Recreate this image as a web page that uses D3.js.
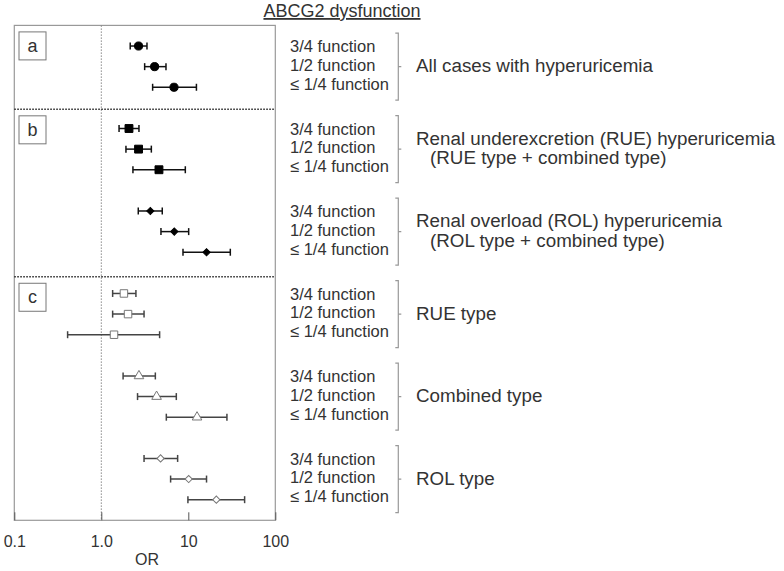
<!DOCTYPE html>
<html>
<head>
<meta charset="utf-8">
<script src="https://cdn.jsdelivr.net/npm/d3@7"></script>
<style>
  body { margin: 0; background: #fff; }
  text { font-family: "Liberation Sans", Arial, sans-serif; fill: #333; }
</style>
</head>
<body>
<div id="body"></div>
<script>
// row labels (repeated in every group)
let functionLabels = ["3/4 function", "1/2 function", "\u2264 1/4 function"]

// group labels, one or two lines each
let groupLabels = [
  ["All cases with hyperuricemia"],
  ["Renal underexcretion (RUE) hyperuricemia", "(RUE type + combined type)"],
  ["Renal overload (ROL) hyperuricemia", "(ROL type + combined type)"],
  ["RUE type"],
  ["Combined type"],
  ["ROL type"]
]
let panelLabels = ["a", "b", "c"]

// odds ratios and 95% CI
let orAll = [2.68, 4.1, 6.85]
let loAll = [2.15, 3.15, 3.89]
let hiAll = [3.35, 5.54, 12.4]

let orRUEall = [2.08, 2.68, 4.6]
let loRUEall = [1.6, 1.92, 2.31]
let hiRUEall = [2.71, 3.76, 9.24]

let orROLall = [3.66, 6.9, 16.2]
let loROLall = [2.66, 4.85, 8.69]
let hiROLall = [5.02, 10.1, 30.4]

let orRUE = [1.82, 2.03, 1.4]
let loRUE = [1.35, 1.35, 0.41]
let hiRUE = [2.5, 3.1, 4.68]

let orComb = [2.71, 4.32, 12.6]
let loComb = [1.78, 2.61, 5.59]
let hiComb = [4.18, 7.28, 27.8]

let orROL = [4.8, 10.1, 21]
let loROL = [3.1, 6.26, 9.9]
let hiROL = [7.54, 16.2, 44.4]

let tickValues = [0.1, 1, 10, 100]
let tickLabels = ["0.1", "1.0", "10", "100"]

let seriesOR = [orAll, orRUEall, orROLall, orRUE, orComb, orROL]
let seriesLo = [loAll, loRUEall, loROLall, loRUE, loComb, loROL]
let seriesHi = [hiAll, hiRUEall, hiROLall, hiRUE, hiComb, hiROL]

// marker style per group
let markers = [
  { shape: d3.symbolCircle, size: 52, fill: "#000", stroke: "#000", rot: 0 },
  { shape: d3.symbolSquare, size: 62, fill: "#000", stroke: "#000", rot: 0 },
  { shape: d3.symbolSquare, size: 26, fill: "#000", stroke: "#000", rot: 45 },
  { shape: d3.symbolSquare, size: 56, fill: "#fff", stroke: "#777", rot: 0 },
  { shape: d3.symbolTriangle, size: 40, fill: "#fff", stroke: "#777", rot: 0 },
  { shape: d3.symbolSquare, size: 26, fill: "#fff", stroke: "#777", rot: 45 }
]

let width = 784, height = 571

let svg = d3.select("#body")
  .append("svg")
  .attr("width", width)
  .attr("height", height)

// scales
let x = d3.scaleLog()
  .domain([0.1, 100])
  .range([14.3, 275.3])

// rows are slots: 4 slots per group (3 rows + gap)
let y = d3.scaleLinear()
  .domain([-1, 23])
  .range([25.4, 520.3])

// build the flat row table
let rows = []
seriesOR.forEach(function (s, g) {
  s.forEach(function (v, i) {
    rows.push({ group: g, i: i, or: v, lo: seriesLo[g][i], hi: seriesHi[g][i], slot: g * 4 + i })
  })
})

// title
svg.append("text")
  .attr("x", 342)
  .attr("y", 17)
  .attr("text-anchor", "middle")
  .style("font-size", "18px")
  .style("text-decoration", "underline")
  .text("ABCG2 dysfunction")

// plot frame
svg.append("rect")
  .attr("x", x(0.1))
  .attr("y", y(-1))
  .attr("width", x(100) - x(0.1))
  .attr("height", y(23) - y(-1))
  .attr("fill", "none")
  .attr("stroke", "#999")
  .attr("stroke-width", 1.2)

// reference line at OR = 1
svg.append("line")
  .attr("x1", x(1)).attr("x2", x(1))
  .attr("y1", y(-1)).attr("y2", y(23))
  .attr("stroke", "#888")
  .attr("stroke-width", 1)
  .attr("stroke-dasharray", "1.5,1.5")

// section separators
let separatorSlots = [3.07, 11.19]
svg.selectAll(".sep")
  .data(separatorSlots)
  .enter()
  .append("line")
  .attr("class", "sep")
  .attr("x1", x(0.1)).attr("x2", x(100))
  .attr("y1", function (d) { return y(d) })
  .attr("y2", function (d) { return y(d) })
  .attr("stroke", "#222")
  .attr("stroke-width", 1.5)
  .attr("stroke-dasharray", "1.5,1.5")

// panel letter boxes
let panelTop = [y(-1), y(3.07), y(11.19)]
let panel = svg.selectAll(".panel")
  .data(panelLabels)
  .enter()
  .append("g")
  .attr("class", "panel")
  .attr("transform", function (d, i) { return "translate(19," + (panelTop[i] + 6.5) + ")" })
panel.append("rect")
  .attr("width", 27)
  .attr("height", 28)
  .attr("fill", "#fff")
  .attr("stroke", "#777")
panel.append("text")
  .attr("x", 13.5)
  .attr("y", 20)
  .attr("text-anchor", "middle")
  .style("font-size", "18px")
  .text(function (d) { return d })

// x axis
let axis = svg.append("g")
  .attr("transform", "translate(0," + y(23) + ")")
  .call(d3.axisBottom(x)
    .tickValues(tickValues)
    .tickSize(-8)
    .tickPadding(15)
    .tickFormat(function (d, i) { return tickLabels[i] }))
axis.select(".domain").remove()
axis.selectAll(".tick line").attr("stroke", "#555")
axis.selectAll(".tick text")
  .style("font-size", "16px")
  .style("font-family", "'Liberation Sans', Arial, sans-serif")
  .attr("fill", "#333")

svg.append("text")
  .attr("x", 147)
  .attr("y", 565)
  .attr("text-anchor", "middle")
  .style("font-size", "16px")
  .text("OR")

// error bars
let bars = svg.selectAll(".bar")
  .data(rows)
  .enter()
  .append("g")
  .attr("class", "bar")
  .attr("stroke", function (d) { return d.group < 3 ? "#111" : "#444" })
  .attr("stroke-width", 1.5)
bars.append("line")
  .attr("x1", function (d) { return x(d.lo) })
  .attr("x2", function (d) { return x(d.hi) })
  .attr("y1", function (d) { return y(d.slot) })
  .attr("y2", function (d) { return y(d.slot) })
bars.append("line")
  .attr("x1", function (d) { return x(d.lo) })
  .attr("x2", function (d) { return x(d.lo) })
  .attr("y1", function (d) { return y(d.slot) - 3.5 })
  .attr("y2", function (d) { return y(d.slot) + 3.5 })
bars.append("line")
  .attr("x1", function (d) { return x(d.hi) })
  .attr("x2", function (d) { return x(d.hi) })
  .attr("y1", function (d) { return y(d.slot) - 3.5 })
  .attr("y2", function (d) { return y(d.slot) + 3.5 })

// point estimates
svg.selectAll(".pt")
  .data(rows)
  .enter()
  .append("path")
  .attr("class", "pt")
  .attr("d", function (d) { return d3.symbol().type(markers[d.group].shape).size(markers[d.group].size)() })
  .attr("transform", function (d) {
    return "translate(" + x(d.or) + "," + y(d.slot) + ") rotate(" + markers[d.group].rot + ")"
  })
  .attr("fill", function (d) { return markers[d.group].fill })
  .attr("stroke", function (d) { return markers[d.group].stroke })
  .attr("stroke-width", 1)

// function labels on the right
svg.selectAll(".flab")
  .data(rows)
  .enter()
  .append("text")
  .attr("class", "flab")
  .attr("x", 290)
  .attr("y", function (d) { return y(d.group * 4 + 1) - 1.5 + (d.i - 1) * 18.8 })
  .attr("dy", "0.35em")
  .style("font-size", "16.5px")
  .text(function (d) { return functionLabels[d.i] })

// brackets
svg.selectAll(".brk")
  .data(groupLabels)
  .enter()
  .append("path")
  .attr("class", "brk")
  .attr("fill", "none")
  .attr("stroke", "#999")
  .attr("stroke-width", 1.2)
  .attr("d", function (d, g) {
    let c = y(g * 4 + 1), bx = 398.3
    return "M" + (bx - 3) + "," + (c - 33.5) + "H" + bx + "V" + (c + 33.5) + "H" + (bx - 3) +
      "M" + bx + "," + c + "H" + (bx + 3)
  })

// group labels
groupLabels.forEach(function (lines, g) {
  let c = y(g * 4 + 1)
  lines.forEach(function (t, j) {
    svg.append("text")
      .attr("x", j === 0 ? 416 : 430)
      .attr("y", lines.length === 1 ? c - 1 : c - 11 + j * 19.5)
      .attr("dy", "0.35em")
      .style("font-size", "18.8px")
      .text(t)
  })
})
</script>
</body>
</html>
